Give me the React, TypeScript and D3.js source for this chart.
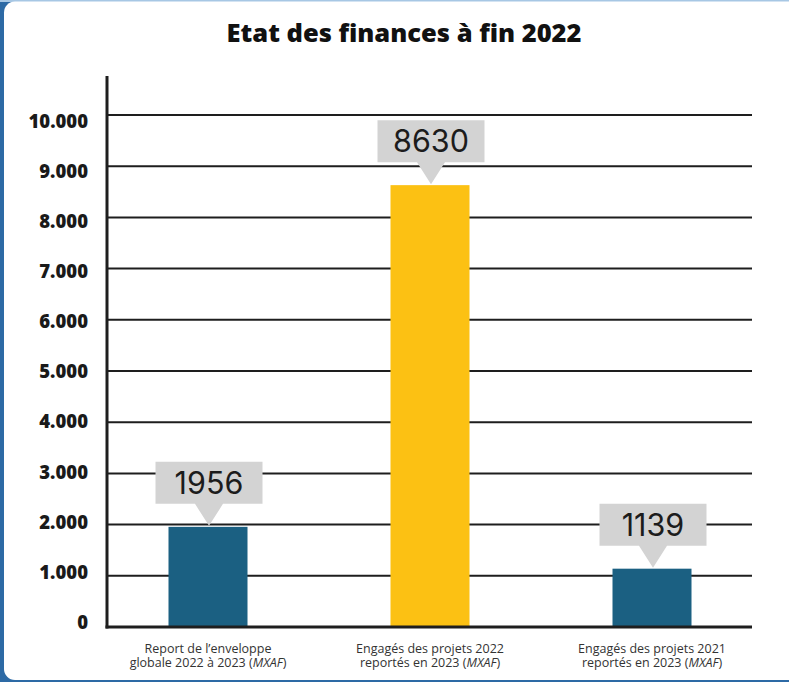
import React from "react";
import * as d3 from "d3";

const categories = ["c1", "c2", "c3"];
const labelLine1 = ["Report de l\u2019enveloppe", "Engag\u00e9s des projets 2022", "Engag\u00e9s des projets 2021"];
const labelLine2 = ["globale 2022 \u00e0 2023 (", "report\u00e9s en 2023 (", "report\u00e9s en 2023 ("];
const unitLabel = "MXAF";
const values = [1956, 8630, 1139];
const barColors = ["#1b6082", "#fcc113", "#1b6082"];
const yTicks = [0, 1000, 2000, 3000, 4000, 5000, 6000, 7000, 8000, 9000, 10000];
const title = "Etat des finances \u00e0 fin 2022";

const W = 789;
const H = 682;
const FONT = "'Open Sans', 'DejaVu Sans', sans-serif";

export default function App() {
  const x0 = 107;
  const x1 = 752;
  const y = d3.scaleLinear().domain([0, 10000]).range([627, 115]);
  const yLab = d3.scaleLinear().domain([0, 10000]).range([622, 121.5]);
  const x = d3.scaleBand<string>().domain(categories).range([97, 763]).padding(0);
  const barW = 79;
  const fmt = d3.formatLocale({ decimal: ",", thousands: ".", grouping: [3], currency: ["", ""] }).format(",");

  const boxW = 107;
  const boxH = 42;
  const tipH = 22;
  const tipHalf = 14;

  return (
    <svg width={W} height={H} style={{ position: "absolute", left: 0, top: 0, display: "block" }}>
      <rect x={0} y={0} width={W} height={H} fill="#2d6aa5" />
      <rect x={0} y={0} width={W} height={2} fill="#a7c7e4" />
      <rect x={4} y={1.5} width={W + 40} height={H - 3.5} rx={11} fill="#ffffff" />

      <text x={404} y={42} textAnchor="middle" fontFamily={FONT} fontWeight={800} fontSize={25.5} fill="#111">
        {title}
      </text>

      {yTicks.filter((t) => t > 0).map((t) => (
        <line key={"g" + t} x1={x0} x2={x1} y1={y(t)} y2={y(t)} stroke="#1e1e1e" strokeWidth={2} />
      ))}
      {yTicks.map((t) => (
        <text key={"t" + t} x={88} y={yLab(t)} dy="0.36em" textAnchor="end" fontFamily={FONT} fontWeight={800} fontSize={18.5} fill="#1a1a1a">
          {fmt(t)}
        </text>
      ))}

      {values.map((v, i) => {
        const cx = (x(categories[i]) as number) + x.bandwidth() / 2;
        return (
          <rect key={"b" + i} x={cx - barW / 2} y={y(v)} width={barW} height={y(0) - y(v)} fill={barColors[i]} />
        );
      })}

      <line x1={x0} x2={x0} y1={y(0) + 1.5} y2={76} stroke="#1e1e1e" strokeWidth={3} />
      <line x1={x0 - 1.5} x2={x1} y1={y(0)} y2={y(0)} stroke="#1e1e1e" strokeWidth={3} />

      {values.map((v, i) => {
        const cx = (x(categories[i]) as number) + x.bandwidth() / 2 + 1;
        const apex = y(v) - 1;
        const bb = apex - tipH;
        const bt = bb - boxH;
        const path = `M${cx - boxW / 2},${bt} H${cx + boxW / 2} V${bb} H${cx + tipHalf} L${cx},${apex} L${cx - tipHalf},${bb} H${cx - boxW / 2} Z`;
        return (
          <g key={"l" + i}>
            <path d={path} fill="#d3d3d3" />
            <text x={cx} y={bb - 10} textAnchor="middle" fontFamily="Inter, 'Open Sans', sans-serif" fontWeight={400} fontSize={30.5} fill="#1c1c1c">
              {String(v)}
            </text>
          </g>
        );
      })}

      {categories.map((c, i) => {
        const cx = (x(c) as number) + x.bandwidth() / 2;
        return (
          <g key={"c" + i} fontFamily={FONT} fontSize={12.5} fill="#333">
            <text x={cx} y={653} textAnchor="middle">{labelLine1[i]}</text>
            <text x={cx} y={667} textAnchor="middle">
              {labelLine2[i]}
              <tspan fontStyle="italic">{unitLabel}</tspan>)
            </text>
          </g>
        );
      })}
    </svg>
  );
}
